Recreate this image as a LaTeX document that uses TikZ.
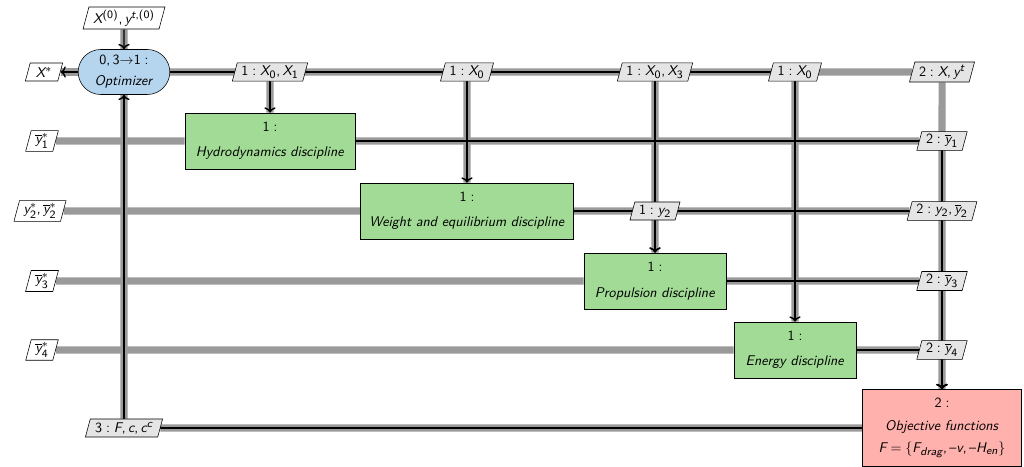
\documentclass[tikz,border=0pt]{standalone}
\usepackage{amsmath,amssymb}
\renewcommand{\familydefault}{\sfdefault}
\usepackage[italic]{mathastext}
\usetikzlibrary{arrows.meta,shapes.geometric,shapes.misc,backgrounds}

\definecolor{optblue}{HTML}{B5D5EE}
\definecolor{discgreen}{HTML}{A1DB95}
\definecolor{funcred}{HTML}{FFB1AD}
\definecolor{linegray}{HTML}{9A9A9A}

\begin{document}
\begin{tikzpicture}[
  every node/.style={font=\normalsize},
  optbox/.style={draw, rounded rectangle, fill=optblue, minimum width=2.525cm, minimum height=1.125cm, align=center},
  disc/.style={draw, fill=discgreen, minimum height=1.4cm, align=center},
  objfunc/.style={draw, fill=funcred, minimum width=3.975cm, minimum height=1.925cm, align=center},
  datainter/.style={draw, trapezium, trapezium left angle=75, trapezium right angle=105, fill=black!10, inner xsep=3pt, inner ysep=2pt, minimum height=0.45cm},
  dataio/.style={datainter, fill=white},
  dataline/.style={draw=linegray, line width=5pt},
  procline/.style={draw=black, line width=1pt, ->},
  >=To
]
  \useasboundingbox (0,0) rectangle (25.6,-11.675);

  % inputs and outputs on the left
  \node[dataio] (x0) at (3.1,-0.45) {$X^{(0)},y^{t,(0)}$};
  \node[dataio] (xstar) at (1.1,-1.8) {$X^*$};
  \node[dataio] (y1in) at (1.05,-3.525) {$\overline{y}_1^*$};
  \node[dataio] (y2in) at (1.0,-5.275) {$y_2^*,\overline{y}_2^*$};
  \node[dataio] (y3in) at (1.05,-7.025) {$\overline{y}_3^*$};
  \node[dataio] (y4in) at (1.05,-8.75) {$\overline{y}_4^*$};

  % diagonal
  \node[optbox] (opt) at (3.1,-1.8) {$0,3{\to}1:$\\[3pt]\textit{Optimizer}};
  \node[disc, minimum width=4.25cm] (hydro) at (6.75,-3.525) {$1:$\\[6pt]\textit{Hydrodynamics discipline}};
  \node[disc, minimum width=5.325cm] (weight) at (11.675,-5.275) {$1:$\\[6pt]\textit{Weight and equilibrium discipline}};
  \node[disc, minimum width=3.55cm] (prop) at (16.375,-7.025) {$1:$\\[6pt]\textit{Propulsion discipline}};
  \node[disc, minimum width=3.05cm] (energy) at (19.875,-8.75) {$1:$\\[6pt]\textit{Energy discipline}};
  \node[objfunc] (func) at (23.55,-10.7) {$2:$\\[4pt]\textit{Objective functions}\\[4pt]$F=\{F_{drag},-v,-H_{en}\}$};

  % coupling data
  \node[datainter] (dhx) at (6.75,-1.8) {$1:X_0,X_1$};
  \node[datainter] (dwx) at (11.675,-1.8) {$1:X_0$};
  \node[datainter] (dpx) at (16.375,-1.8) {$1:X_0,X_3$};
  \node[datainter] (dex) at (19.875,-1.8) {$1:X_0$};
  \node[datainter] (dxy) at (23.55,-1.8) {$2:X,y^t$};
  \node[datainter] (dy1) at (23.55,-3.525) {$2:\overline{y}_1$};
  \node[datainter] (dwp) at (16.375,-5.275) {$1:y_2$};
  \node[datainter] (dy2) at (23.55,-5.275) {$2:y_2,\overline{y}_2$};
  \node[datainter] (dy3) at (23.55,-7.025) {$2:\overline{y}_3$};
  \node[datainter] (dy4) at (23.55,-8.75) {$2:\overline{y}_4$};
  \node[datainter] (dobj) at (3.1,-10.7) {$3:F,c,c^c$};

  \begin{scope}[on background layer]
    % data lines
    \draw[dataline] (x0) -- (opt);
    \draw[dataline] (opt) -- (xstar);
    \draw[dataline] (opt) -- (dxy) -- (func);
    \draw[dataline] (dhx) -- (hydro);
    \draw[dataline] (dwx) -- (weight);
    \draw[dataline] (dpx) -- (prop);
    \draw[dataline] (dex) -- (energy);
    \draw[dataline] (y1in) -- (hydro) -- (dy1);
    \draw[dataline] (y2in) -- (weight) -- (dy2);
    \draw[dataline] (y3in) -- (prop) -- (dy3);
    \draw[dataline] (y4in) -- (energy) -- (dy4);
    \draw[dataline] (func) -- (dobj) -- (opt);

    % process lines
    \draw[procline] (x0) -- (opt);
    \draw[procline] (opt) -- (xstar);
    \draw[procline] (opt) -| (hydro);
    \draw[procline] (opt) -| (weight);
    \draw[procline] (opt) -| (prop);
    \draw[procline] (opt) -| (energy);
    \draw[procline] (weight) -| (prop);
    \draw[procline] (hydro) -| (func);
    \draw[procline] (weight) -| (func);
    \draw[procline] (prop) -| (func);
    \draw[procline] (energy) -| (func);
    \draw[procline] (func) -| (opt);
  \end{scope}
\end{tikzpicture}
\end{document}
